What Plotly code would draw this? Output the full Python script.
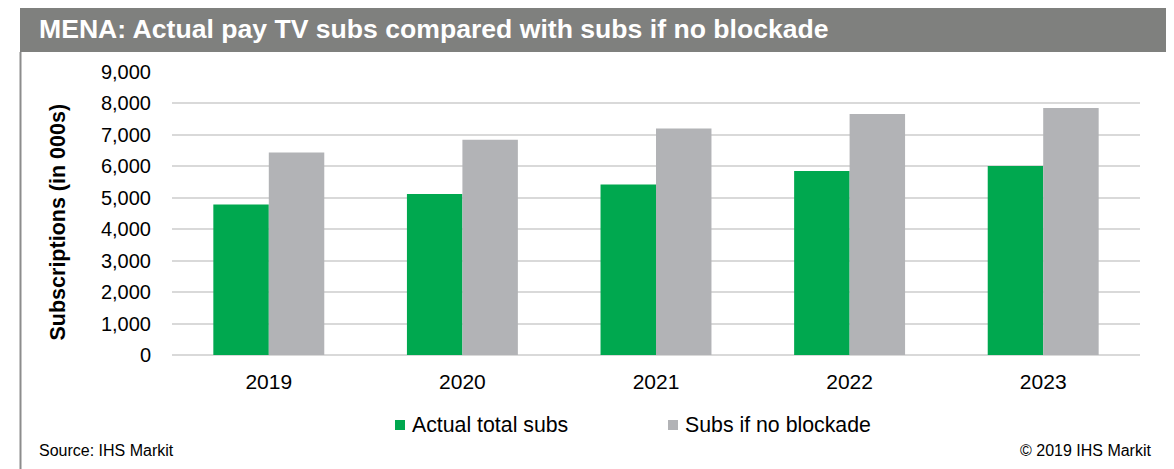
import plotly.graph_objects as go

years = ["2019", "2020", "2021", "2022", "2023"]
actual_subs = [4780, 5110, 5410, 5840, 6000]
no_blockade_subs = [6430, 6830, 7190, 7650, 7840]
series_names = ["Actual total subs", "Subs if no blockade"]
y_ticks = [0, 1000, 2000, 3000, 4000, 5000, 6000, 7000, 8000, 9000]
title_text = "MENA: Actual pay TV subs compared with subs if no blockade"
y_title = "Subscriptions (in 000s)"
source_text = "Source: IHS Markit"
copyright_text = "© 2019 IHS Markit"

W, H = 1174, 469
OFF = 8  # page body margin offset
FONT = "Liberation Sans, Arial, sans-serif"
GREEN = "#00a84f"
GRAY = "#b2b3b6"


def px(x):
    return (x - OFF) / W


def py(y):
    return 1 - (y - OFF) / H


fig = go.Figure()
fig.add_trace(go.Bar(x=years, y=actual_subs, name=series_names[0],
                     marker=dict(color=GREEN, line=dict(width=0))))
fig.add_trace(go.Bar(x=years, y=no_blockade_subs, name=series_names[1],
                     marker=dict(color=GRAY, line=dict(width=0))))

shapes = [
    # title bar
    dict(type="rect", xref="paper", yref="paper", x0=px(20), x1=px(1170),
         y0=py(52), y1=py(4), fillcolor="#7f807e", line=dict(width=0), layer="below"),
    dict(type="line", xref="paper", yref="paper", x0=px(20), x1=px(1170),
         y0=py(4.5), y1=py(4.5), line=dict(color="#a6a6a6", width=1)),
    # frame sides
    dict(type="line", xref="paper", yref="paper", x0=px(20.5), x1=px(20.5),
         y0=0, y1=py(52), line=dict(color="#8c8c8c", width=2)),
    dict(type="line", xref="paper", yref="paper", x0=px(1169), x1=px(1169),
         y0=0, y1=py(52), line=dict(color="#8c8c8c", width=2)),
    # legend swatches
    dict(type="rect", xref="paper", yref="paper", x0=px(395), x1=px(405),
         y0=py(430), y1=py(420), fillcolor=GREEN, line=dict(width=0)),
    dict(type="rect", xref="paper", yref="paper", x0=px(668), x1=px(678),
         y0=py(430), y1=py(420), fillcolor=GRAY, line=dict(width=0)),
]

annotations = [
    dict(text=title_text, x=px(37), y=py(29), xref="paper", yref="paper",
         xanchor="left", yanchor="middle", showarrow=False,
         font=dict(family=FONT, size=26.6, color="white", weight="bold")),
    dict(text=y_title, x=px(57.5), y=py(222), xref="paper", yref="paper",
         xanchor="center", yanchor="middle", showarrow=False, textangle=-90,
         font=dict(family=FONT, size=21.5, color="black", weight="bold")),
    dict(text=series_names[0], x=px(410), y=py(425), xref="paper", yref="paper",
         xanchor="left", yanchor="middle", showarrow=False,
         font=dict(family=FONT, size=21.3, color="black")),
    dict(text=series_names[1], x=px(683), y=py(425), xref="paper", yref="paper",
         xanchor="left", yanchor="middle", showarrow=False,
         font=dict(family=FONT, size=21.3, color="black")),
    dict(text=source_text, x=px(37), y=py(450), xref="paper", yref="paper",
         xanchor="left", yanchor="middle", showarrow=False,
         font=dict(family=FONT, size=16, color="black")),
    dict(text=copyright_text, x=px(1154), y=py(450), xref="paper", yref="paper",
         xanchor="right", yanchor="middle", showarrow=False,
         font=dict(family=FONT, size=16, color="black")),
]

fig.update_layout(
    template="none",
    width=W, height=H, autosize=False,
    margin=dict(l=0, r=0, t=0, b=0, pad=0, autoexpand=False),
    paper_bgcolor="white", plot_bgcolor="white",
    barmode="group", bargap=0.427, bargroupgap=0,
    showlegend=False,
    shapes=shapes, annotations=annotations,
    font=dict(family=FONT, color="black"),
    xaxis=dict(domain=[px(172), px(1140)], showgrid=False, showline=False,
               zeroline=False, ticks="", ticklabelstandoff=12, automargin=False,
               tickfont=dict(family=FONT, size=21, color="black")),
    yaxis=dict(domain=[py(355), py(71.5)], range=[0, 9000], tickvals=y_ticks,
               tickformat=",d", showgrid=True, gridcolor="#d9d9d9", gridwidth=2,
               zeroline=True, zerolinecolor="#d9d9d9", zerolinewidth=2,
               showline=False, ticks="", ticklabelstandoff=20, automargin=False,
               tickfont=dict(family=FONT, size=20, color="black")),
)

fig.write_html("out.html")
